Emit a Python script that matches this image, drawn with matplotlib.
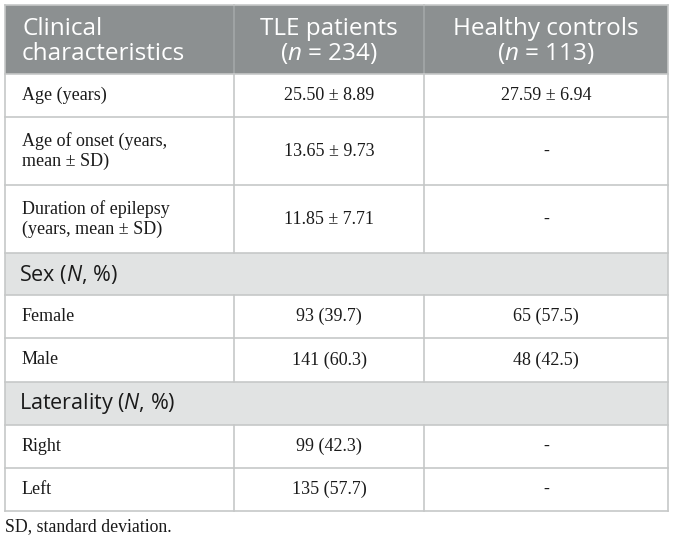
import matplotlib.pyplot as plt
from matplotlib.patches import Rectangle

plt.rcParams['mathtext.fontset'] = 'custom'
plt.rcParams['mathtext.it'] = 'Open Sans:italic'
plt.rcParams['mathtext.rm'] = 'Open Sans'

headers = ["Clinical\ncharacteristics", "TLE patients\n($n$ = 234)", "Healthy controls\n($n$ = 113)"]
row_labels = ["Age (years)", "Age of onset (years,\nmean \u00b1 SD)", "Duration of epilepsy\n(years, mean \u00b1 SD)",
              "Sex ($N$, %)", "Female", "Male",
              "Laterality ($N$, %)", "Right", "Left"]
tle_values = ["25.50 \u00b1 8.89", "13.65 \u00b1 9.73", "11.85 \u00b1 7.71",
              None, "93 (39.7)", "141 (60.3)", None, "99 (42.3)", "135 (57.7)"]
hc_values = ["27.59 \u00b1 6.94", "-", "-", None, "65 (57.5)", "48 (42.5)", None, "-", "-"]
footnote = "SD, standard deviation."

# layout in pixels
col_x = [5, 234, 424, 668]
row_y = [5, 74, 117, 185, 253, 295, 338, 382, 425, 468, 511]

header_bg = "#8c9091"
section_bg = "#e1e3e3"
line_col = "#c6c8c8"
txt = "#1a1a1a"

fig = plt.figure(figsize=(6.74, 5.42), dpi=100)
ax = fig.add_axes([0, 0, 1, 1])
ax.set_xlim(0, 674)
ax.set_ylim(542, 0)
ax.axis("off")

# header
ax.add_patch(Rectangle((col_x[0], row_y[0]), col_x[-1] - col_x[0], row_y[1] - row_y[0],
                       facecolor=header_bg, edgecolor="none"))
hy = (row_y[0] + row_y[1]) / 2 + 2
for i, h in enumerate(headers):
    if i == 0:
        ax.text(col_x[0] + 17, hy, h, color="white", fontsize=17.5, family="Open Sans",
                ha="left", va="center", linespacing=1.05)
    else:
        ax.text((col_x[i] + col_x[i + 1]) / 2, hy, h, color="white", fontsize=17.5, family="Open Sans",
                ha="center", va="center", linespacing=1.05, multialignment="center")
for x in col_x[1:-1]:
    ax.plot([x, x], [row_y[0], row_y[1]], color="#a3a7a8", lw=1.2)

# body rows
for r, label in enumerate(row_labels):
    y0, y1 = row_y[r + 1], row_y[r + 2]
    yc = (y0 + y1) / 2
    if tle_values[r] is None:
        ax.add_patch(Rectangle((col_x[0], y0), col_x[-1] - col_x[0], y1 - y0,
                               facecolor=section_bg, edgecolor="none"))
        ax.text(col_x[0] + 14, yc, label, color=txt, fontsize=15.5, family="Open Sans",
                ha="left", va="center")
    else:
        ax.text(col_x[0] + 17, yc, label, color=txt, fontsize=13, family="Liberation Serif",
                ha="left", va="center", linespacing=1.25)
        ax.text((col_x[1] + col_x[2]) / 2, yc, tle_values[r], color=txt, fontsize=13,
                family="Liberation Serif", ha="center", va="center")
        ax.text((col_x[2] + col_x[3]) / 2, yc, hc_values[r], color=txt, fontsize=13,
                family="Liberation Serif", ha="center", va="center")
        for x in col_x[1:-1]:
            ax.plot([x, x], [y0, y1], color=line_col, lw=1.2)

# horizontal lines and outer border
for y in row_y[1:]:
    ax.plot([col_x[0], col_x[-1]], [y, y], color=line_col, lw=1.2)
ax.plot([col_x[0], col_x[0]], [row_y[0], row_y[-1]], color=line_col, lw=1.2)
ax.plot([col_x[-1], col_x[-1]], [row_y[0], row_y[-1]], color=line_col, lw=1.2)
ax.plot([col_x[0], col_x[-1]], [row_y[0], row_y[0]], color=line_col, lw=1.2)

ax.text(col_x[0], 527, footnote, color=txt, fontsize=12.8, family="Liberation Serif",
        ha="left", va="center")

fig.savefig("out.png", dpi=100)
